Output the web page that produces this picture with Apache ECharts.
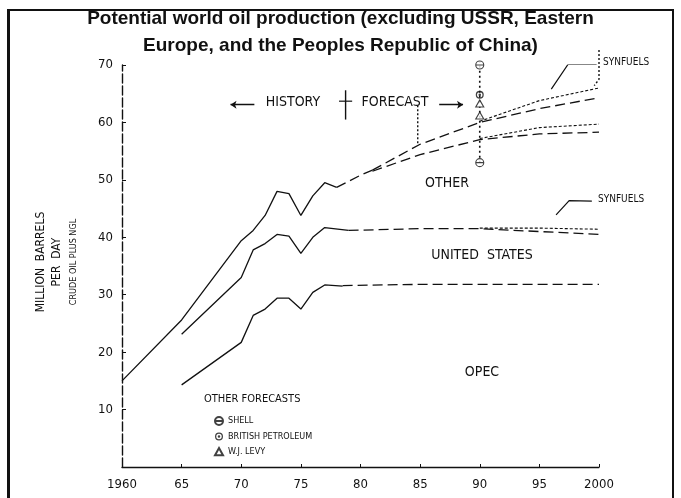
<!DOCTYPE html>
<html><head><meta charset="utf-8">
<script src="https://cdn.jsdelivr.net/npm/echarts@6/dist/echarts.min.js"></script>
<style>html,body{margin:0;padding:0;background:#fff}#c{width:681px;height:498px}</style>
</head><body><div id="c"></div>
<script>
// ---- data (years, million barrels per day) ----
const xTicks = [1960, 1965, 1970, 1975, 1980, 1985, 1990, 1995, 2000];
const xTickLabels = ['1960', '65', '70', '75', '80', '85', '90', '95', '2000'];
const yTicks = [10, 20, 30, 40, 50, 60, 70];

const totalHistory = [[1960,15],[1965,25.6],[1970,39.4],[1971,41.2],[1972,43.8],[1973,48],[1974,47.6],[1975,43.8],[1976,47.2],[1977,49.5],[1978,48.7]];
const usHistory    = [[1965,23.1],[1970,33],[1971,37.8],[1972,38.9],[1973,40.5],[1974,40.2],[1975,37.2],[1976,40],[1977,41.7],[1979,41.2]];
const opecHistory  = [[1965,14.3],[1970,21.7],[1971,26.4],[1972,27.5],[1973,29.4],[1974,29.4],[1975,27.5],[1976,30.4],[1977,31.7],[1978.5,31.5]];

const totalForecastBase = [[1978,48.7],[1980,50.8],[1981,51.7]];
const totalHigh         = [[1981,51.7],[1985,56.2],[1990,60],[1995,62.4],[2000,64.3]];
const totalHighSynfuels = [[1990,60.2],[1995,63.8],[2000,66]];
const totalLow          = [[1981,51.5],[1985,54.4],[1990,57],[1995,58],[2000,58.3]];
const totalLowSynfuels  = [[1990,57.2],[1995,59.1],[2000,59.7]];
const usForecast        = [[1979,41.2],[1985,41.5],[1990,41.5],[1995,41],[2000,40.5]];
const usSynfuels        = [[1990,41.6],[1995,41.6],[2000,41.4]];
const opecForecast      = [[1978.5,31.6],[1985,31.8],[1990,31.8],[2000,31.8]];

const forecast1990Range = [[1990,53],[1990,70.5]];
const shellPoints = [[1990,70],[1990,53]];
const bpPoints    = [[1990,64.8]];
const levyPoints  = [[1990,63.3],[1990,61.2]];

// annotation geometry in data units
const crossV = [[1978.75,65.6],[1978.75,60.5]];
const crossH = [[1978.2,63.7],[1979.3,63.7]];
const arrowHistory  = [[1971.1,63.1],[1969.1,63.1]];
const arrowForecast = [[1986.6,63.1],[1988.6,63.1]];
const forecastLeader = [[1984.8,63],[1984.8,56.2]];
const synfuelsPointerTop = [[1999.8,70.1],[1997.4,70.1],[1996,65.8]];
const synfuelsPointerUS  = [[1999.4,46.3],[1997.5,46.4],[1996.4,43.9]];
const synfuelsBracket = [[2000,72.6],[2000,67.5],[1999.6,66.4]];

const narrow = "'Liberation Sans Narrow','DejaVu Sans Condensed',sans-serif";
const chart = echarts.init(document.getElementById('c'), null, {renderer:'canvas'});

function ln(data, type, width, extra) {
  return Object.assign({type:'line', data, symbol:'none', showSymbol:false, silent:true, clip:false,
    lineStyle:{color:'#111', width: width || 1.3, type: type || 'solid'}, z:3}, extra || {});
}
function ptr(coords) {
  return {type:'lines', coordinateSystem:'cartesian2d', polyline:true, silent:true,
    symbol:['none','arrow'], symbolSize:7,
    lineStyle:{color:'#111', width:1.2, opacity:1},
    data:[{coords}], z:4};
}

const shellSym = 'path://M0,5A5,5 0 1,1 10,5A5,5 0 1,1 0,5Z M0,5L10,5';
const bpSym = 'path://M5,0A5,5 0 1,1 5,10A5,5 0 1,1 5,0Z M5,1.6A3.4,3.4 0 1,0 5,8.4A3.4,3.4 0 1,0 5,1.6Z M5,3.4A1.6,1.6 0 1,1 5,6.6A1.6,1.6 0 1,1 5,3.4Z';

const option = {
  backgroundColor:'#fff',
  animation:false,
  title:{text:'Potential world oil production (excluding USSR, Eastern\nEurope, and the Peoples Republic of China)',
    left:'center', top:0,
    textStyle:{fontFamily:'Liberation Sans, Arial, sans-serif', fontSize:19, fontWeight:'bold', color:'#111', lineHeight:27}},
  grid:{left:122, right:82, top:65, bottom:31, containLabel:false},
  xAxis:{type:'value', min:1960, max:2000, interval:5, offset:3,
    axisLine:{lineStyle:{color:'#111', width:1.3}},
    axisTick:{inside:true, length:3, lineStyle:{color:'#111'}},
    splitLine:{show:false},
    axisLabel:{color:'#111', fontFamily:narrow, fontSize:13, margin:8,
      formatter:v => { const i = xTicks.indexOf(v); return i >= 0 ? xTickLabels[i] : ''; }}},
  yAxis:{type:'value', min:0, max:70, interval:10,
    axisLine:{show:true, lineStyle:{color:'#111', width:1.4, type:[9,3]}},
    axisTick:{show:true, inside:true, length:4, lineStyle:{color:'#111'}},
    splitLine:{show:false},
    axisLabel:{color:'#111', fontFamily:narrow, fontSize:13, margin:9,
      formatter:v => yTicks.indexOf(v) >= 0 ? String(v) : ''}},
  legend:{orient:'vertical', left:209, top:411, itemWidth:8, itemHeight:8, itemGap:6,
    textStyle:{fontFamily:narrow, fontSize:9, color:'#111'},
    data:['SHELL','BRITISH PETROLEUM','W.J. LEVY']},
  series:[
    ln(totalHistory), ln(usHistory), ln(opecHistory),
    ln(totalForecastBase,[10,5]), ln(totalHigh,[10,5]), ln(totalHighSynfuels,[3,2],1.1),
    ln(totalLow,[10,5]), ln(totalLowSynfuels,[3,2],1.1),
    ln(usForecast,[10,5]), ln(usSynfuels,[3,2],1.1),
    ln(opecForecast,[10,5]),
    ln(forecast1990Range,[2,3],1.6),
    ln(forecastLeader,[2,2],1.4),
    ln(synfuelsBracket,[2,2],1.4),
    ln(crossV,'solid',1.4), ln(crossH,'solid',1.2),
    {type:'lines', coordinateSystem:'cartesian2d', silent:true, symbol:['none','arrow'], symbolSize:6,
      lineStyle:{color:'#111', width:1.4, opacity:1}, data:[{coords:arrowHistory},{coords:arrowForecast}], z:4},
    ptr(synfuelsPointerTop), ptr(synfuelsPointerUS),
    {name:'SHELL', type:'scatter', data:shellPoints, symbol:shellSym, symbolSize:8,
      itemStyle:{color:'#fff', borderColor:'#111', borderWidth:1.1}, z:6},
    {name:'BRITISH PETROLEUM', type:'scatter', data:bpPoints, symbol:bpSym, symbolSize:8,
      itemStyle:{color:'#111'}, z:6},
    {name:'W.J. LEVY', type:'scatter', data:levyPoints, symbol:'path://M5,0L10,9L0,9Z', symbolSize:[8,7],
      itemStyle:{color:'#fff', borderColor:'#111', borderWidth:1.1}, z:6}
  ],
  graphic:[
    {type:'rect', shape:{x:8, y:10, width:665, height:500}, style:{fill:'none', stroke:'#111', lineWidth:2}, z:0},
    {type:'line', shape:{x1:8.5, y1:10, x2:8.5, y2:498}, style:{stroke:'#111', lineWidth:3}},
    {type:'text', x:293, y:102, style:{text:'HISTORY', font:"14px "+narrow, fill:'#111', textAlign:'center', textVerticalAlign:'middle'}},
    {type:'text', x:395, y:102, style:{text:'FORECAST', font:"14px "+narrow, fill:'#111', textAlign:'center', textVerticalAlign:'middle'}},
    {type:'text', x:447, y:183, style:{text:'OTHER', font:"14px "+narrow, fill:'#111', textAlign:'center', textVerticalAlign:'middle'}},
    {type:'text', x:482, y:255, style:{text:'UNITED  STATES', font:"14px "+narrow, fill:'#111', textAlign:'center', textVerticalAlign:'middle'}},
    {type:'text', x:482, y:372, style:{text:'OPEC', font:"14px "+narrow, fill:'#111', textAlign:'center', textVerticalAlign:'middle'}},
    {type:'text', x:603, y:62, style:{text:'SYNFUELS', font:"10px "+narrow, fill:'#111', textAlign:'left', textVerticalAlign:'middle'}},
    {type:'text', x:598, y:199, style:{text:'SYNFUELS', font:"10px "+narrow, fill:'#111', textAlign:'left', textVerticalAlign:'middle'}},
    {type:'text', x:204, y:399, style:{text:'OTHER FORECASTS', font:"11px "+narrow, fill:'#111', textAlign:'left', textVerticalAlign:'middle'}},
    {type:'text', x:41, y:262, rotation:Math.PI/2, style:{text:'MILLION  BARRELS', font:"12px "+narrow, fill:'#111', textAlign:'center', textVerticalAlign:'middle'}},
    {type:'text', x:57, y:262, rotation:Math.PI/2, style:{text:'PER  DAY', font:"12px "+narrow, fill:'#111', textAlign:'center', textVerticalAlign:'middle'}},
    {type:'text', x:74, y:262, rotation:Math.PI/2, style:{text:'CRUDE OIL PLUS NGL', font:"9px "+narrow, fill:'#111', textAlign:'center', textVerticalAlign:'middle'}}
  ]
};
chart.setOption(option);
</script></body></html>
